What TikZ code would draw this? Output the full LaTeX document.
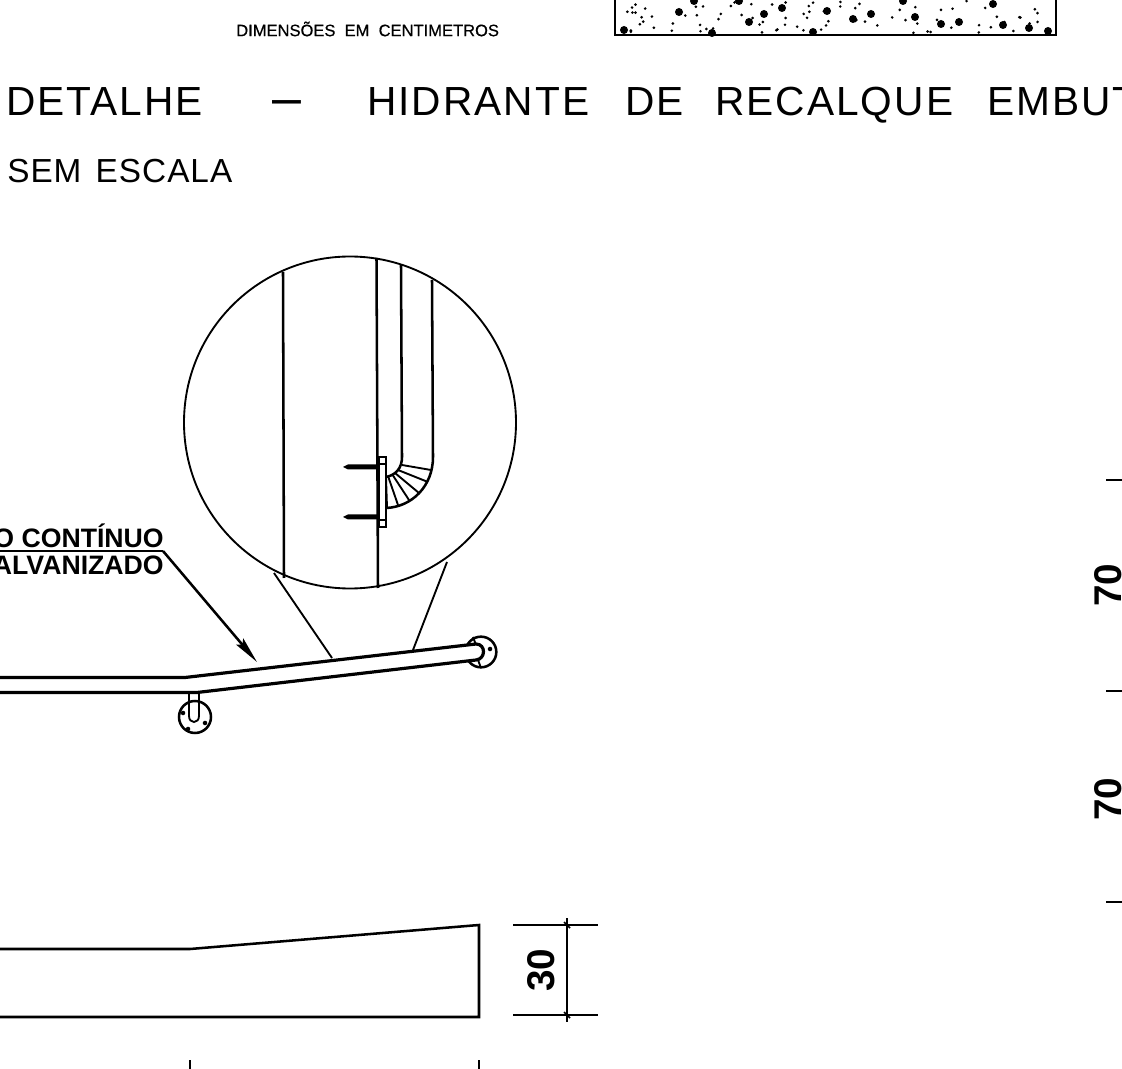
\documentclass[tikz,border=0pt]{standalone}
\usepackage{fontspec}
\setmainfont{Liberation Sans}
\newfontfamily\cadfont[LetterSpace=5]{Liberation Sans}
\newfontfamily\cadsmall[LetterSpace=3]{Liberation Sans}
\newfontfamily\notefont[FakeBold=0.5]{Liberation Sans}
\usetikzlibrary{arrows.meta}
\tikzset{
    outline/.style={line width=1.9pt, black},
    thinline/.style={line width=1.4pt, black},
    heading/.style={anchor=base west, inner sep=0pt, font=\fontsize{30.5}{31}\cadfont},
    subheading/.style={anchor=base west, inner sep=0pt, font=\fontsize{25}{25}\cadsmall},
    callout/.style={anchor=east, inner sep=0pt, font=\fontsize{20}{20}\selectfont\bfseries},
    dimlabel/.style={rotate=90, inner sep=0pt, font=\fontsize{29}{29}\selectfont\bfseries},
}
\begin{document}
\begin{tikzpicture}[x=0.75pt, y=-0.75pt]
    \useasboundingbox (0,0) rectangle (1122,1069);
    \clip (0,0) rectangle (1122,1069);

    % Top labels
    \node[anchor=west, inner sep=0pt, font=\fontsize{12.4}{13}\notefont] (units) at (236,29) {DIMENSÕES\ \ EM\ \ CENTIMETROS};
    \draw[outline] (615,-5) -- (615,35) -- (1056,35) -- (1056,-5);

    % Concrete hatch
    \pgfmathsetseed{41}
    \foreach \i in {1,...,85} {
        \pgfmathsetmacro{\dotx}{619+rnd*434}
        \pgfmathsetmacro{\doty}{1+rnd*32}
        \fill[black] (\dotx,\doty) circle (1.1pt);
    }
    \foreach \blobx/\bloby in {679/12, 749/22, 764/14, 782/8, 827/11, 853/19, 871/14, 915/17, 941/24,
        959/22, 1003/25, 993/4, 624/30, 813/32, 1029/28, 1048/31, 712/33, 739/1, 694/1, 903/1} {
        \fill[black] (\blobx,\bloby) circle (3pt);
    }

    % Title
    \node[heading] (detalhe) at (6,116) {DETALHE\hspace{1pt}};
    \node[heading, font=\fontsize{39}{39}\cadfont] (dash) at (272,116) {–};
    \node[heading] (hidrante) at (367,116) {HIDRANTE};
    \node[heading] (de) at (625,116) {DE};
    \node[heading] (recalque) at (715,116) {RECALQUE};
    \node[heading] (embut) at (987,116) {EMBUT};
    \node[subheading] (escala) at (7,183) {SEM\hspace{3pt} ESCALA};

    % Detail circle
    \node[circle, draw, thinline, minimum size=249pt, inner sep=0pt] (lens) at (350,422.5) {};
    \draw[outline] (283,272) -- (284,578);
    \draw[outline] (376.5,258) -- (378,588);
    \draw[outline] (401,265) -- (402,457) .. controls (402,468) and (396,475) .. (386,477);
    \draw[outline] (432,280) -- (433,457) .. controls (433,486) and (412,507) .. (386,508);

    % Bend ribs
    \foreach \ribax/\ribay/\ribbx/\ribby in {402/465/431/470, 398/470/428/482, 395/473/419/493,
        392/474/409/500, 388/476/398/505, 386/477/387/507} {
        \draw[thinline] (\ribax,\ribay) -- (\ribbx,\ribby);
    }

    % Plate and screws
    \draw[outline, fill=white] (379,457) rectangle (386,527);
    \draw[outline] (379,464) -- (386,464);
    \draw[outline] (379,520) -- (386,520);
    \foreach \screwy in {467,517} {
        \fill[black] (343,\screwy) -- (348,\screwy-2.5) -- (379,\screwy-2.5) -- (379,\screwy+2.5) -- (348,\screwy+2.5) -- cycle;
    }

    % Lines from circle to rail
    \draw[thinline] (274,573) -- (332,658);
    \draw[thinline] (447,562) -- (413,650);

    % Wall flanges
    \node[circle, draw, outline, fill=white, minimum size=23pt, inner sep=0pt] (flangeright) at (481,652) {};
    \node[circle, draw, outline, fill=white, minimum size=24pt, inner sep=0pt] (flangeleft) at (195,717) {};
    \fill[black] (490,649) circle (1.7pt);
    \fill[black] (183,713) circle (1.7pt) (205,723) circle (1.7pt) (188,729) circle (1.7pt);
    \draw[thinline] (473,637) -- (476,645);
    \draw[thinline] (478,660) -- (481,668);
    \draw[thinline] (189,694) -- (189,716) .. controls (189,724) and (199,724) .. (199,716) -- (199,693);

    % Rail
    \draw[line width=2.4pt, black, fill=white] (-5,677.5) -- (185,677.5) -- (476,644)
        .. controls (486,644) and (486,659) .. (476,660) -- (197,692.5) -- (-5,692.5);

    % Callout
    \node[callout] (pipetop) at (164,536) {O CONTÍNUO};
    \node[callout] (pipebottom) at (164,565) {ALVANIZADO};
    \coordinate (bendpoint) at (163,551);
    \coordinate (tippoint) at (257,662);
    \draw[outline] (-5,551) -- (bendpoint);
    \draw[outline, -{Stealth[length=20pt, width=7pt, inset=3pt]}] (bendpoint) -- (tippoint);

    % Plan outline
    \draw[outline] (-5,949) -- (190,949) -- (479,925) -- (479,1017) -- (-5,1017);

    % Plan dimension
    \coordinate (dimtop) at (567,918);
    \coordinate (dimbottom) at (567,1022);
    \draw[thinline] (513,925) -- (598,925);
    \draw[thinline] (513,1015) -- (598,1015);
    \draw[line width=1pt] (dimtop) -- (dimbottom);
    \draw[line width=1.2pt] (564,922) -- (570,928);
    \draw[line width=1.2pt] (564,1012) -- (570,1018);
    \node[dimlabel] (dimplan) at (541,970) {30};

    % Bottom ticks
    \draw[thinline] (190,1060) -- (190,1072);
    \draw[thinline] (479,1060) -- (479,1072);

    % Right ticks and labels
    \foreach \ticky in {480,691,902} {
        \draw[thinline] (1106,\ticky) -- (1125,\ticky);
    }
    \node[dimlabel] (dimupper) at (1108,585) {70};
    \node[dimlabel] (dimlower) at (1108,799) {70};
\end{tikzpicture}
\end{document}
